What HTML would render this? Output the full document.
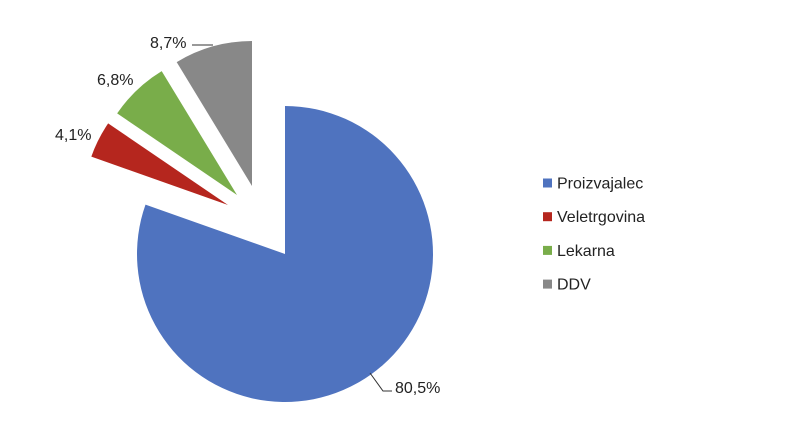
<!DOCTYPE html>
<html><head><meta charset="utf-8">
<style>
html,body{margin:0;padding:0;background:#fff;}
svg{display:block;font-family:"Liberation Sans",sans-serif;}
</style></head>
<body>
<svg id="chart" width="796" height="428" viewBox="0 0 796 428" xmlns="http://www.w3.org/2000/svg"></svg>
<script>
const categories = ["Proizvajalec", "Veletrgovina", "Lekarna", "DDV"];
const values = [80.5, 4.1, 6.8, 8.7];
const valueLabels = ["80,5%", "4,1%", "6,8%", "8,7%"];
const colors = ["#4f73bf", "#b5261e", "#79ad4a", "#888888"];

const NS = "http://www.w3.org/2000/svg";
const svg = document.getElementById("chart");
const cx = 285, cy = 254, R = 148;
const offsets = [[0,0],[-57,-49],[-48,-59],[-33,-68]];
const labelPos = [[395,393],[55,140],[97,85],[150,48]];

function mk(tag, attrs){ const e=document.createElementNS(NS,tag); for(const k in attrs) e.setAttribute(k,attrs[k]); svg.appendChild(e); return e; }
function pt(x,y,r,a){ const rad=a*Math.PI/180; return [x+r*Math.sin(rad), y-r*Math.cos(rad)]; }

const total = values.reduce((a,b)=>a+b,0);
let start = 0;
values.forEach((v,i)=>{
  const sweep = v/total*360;
  const end = start+sweep;
  const ox = cx+offsets[i][0], oy = cy+offsets[i][1];
  const r = i===0?R:145;
  const p1 = pt(ox,oy,r,start), p2 = pt(ox,oy,r,end);
  const large = sweep>180?1:0;
  const path = mk("path",{d:`M${ox},${oy} L${p1[0]},${p1[1]} A${r},${r} 0 ${large} 1 ${p2[0]},${p2[1]} Z`, fill:colors[i]});
  
  
  const t = mk("text",{x:labelPos[i][0], y:labelPos[i][1], "font-size":"16", fill:"#222"});
  t.textContent = valueLabels[i];
  
  
  start = end;
});
const l1 = mk("polyline",{points:"370,373 383,391 392,391", fill:"none", stroke:"#333", "stroke-width":"1"});


const l2 = mk("polyline",{points:"192,45 213,45", fill:"none", stroke:"#333", "stroke-width":"1"});



categories.forEach((c,i)=>{
  const y = 183 + i*33.7;
  const sq = mk("rect",{x:543, y:y-4.5, width:9, height:9, fill:colors[i]});
  
  
  const t = mk("text",{x:557, y:y+5.5, "font-size":"16", fill:"#222"});
  t.textContent = c;
  
  
});
</script>
</body></html>
